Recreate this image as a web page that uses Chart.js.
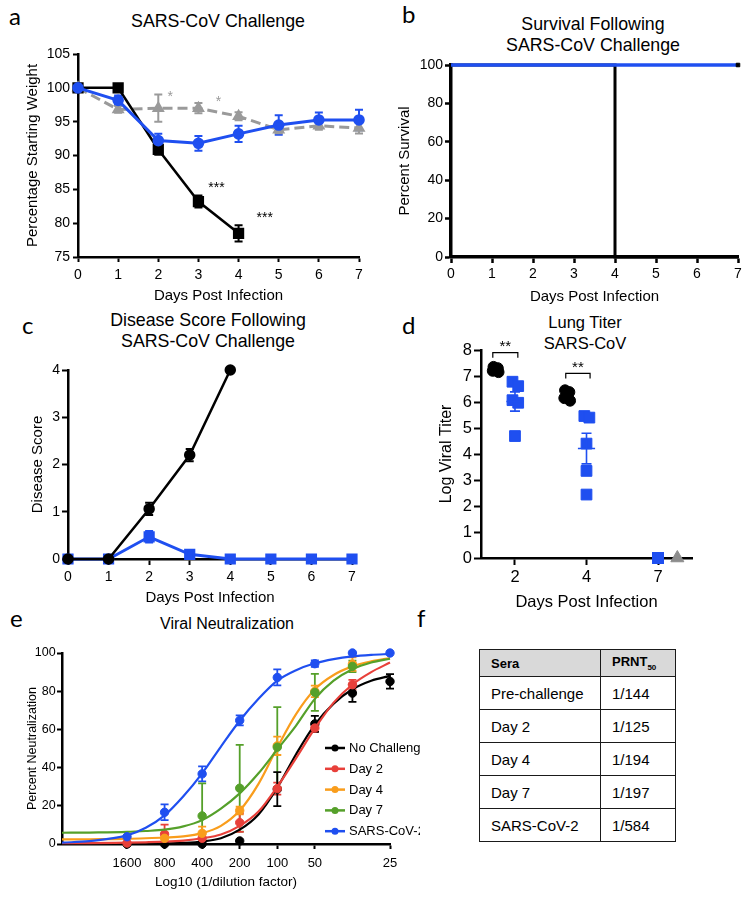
<!DOCTYPE html>
<html>
<head>
<meta charset="utf-8">
<script src="https://cdn.jsdelivr.net/npm/chart.js@4.4.1/dist/chart.umd.min.js"></script>
<style>
  body { margin: 0; background: #fff; }
  #fig { position: relative; width: 751px; height: 899px; overflow: hidden; font-family: "Liberation Sans", Arial, sans-serif; color: #000; }
  .box { position: absolute; }
  .letter { position: absolute; font-family: Lato, "Open Sans", sans-serif; font-size: 24px; line-height: 1; }
  .ttl { position: absolute; transform: translate(-50%, -50%); white-space: nowrap; font-size: 17.8px; line-height: 1; }
  #tbl { position: absolute; left: 479px; top: 649px; border-collapse: collapse; font-family: "Liberation Sans", Arial, sans-serif; }
  #tbl td, #tbl th { border: 1.5px solid #1a1a1a; padding: 0 0 0 11px; text-align: left; }
  #tbl th { background: #d9d9d9; height: 26px; font-size: 13px; font-weight: bold; }
  #tbl td { height: 32px; font-size: 15px; }
  #tbl sub { font-size: 8px; }
</style>
</head>
<body>
<div id="fig">
  <div class="letter" style="left:9px;top:4px">a</div>
  <div class="letter" style="left:402px;top:2px">b</div>
  <div class="letter" style="left:22px;top:313px">c</div>
  <div class="letter" style="left:402px;top:313px">d</div>
  <div class="letter" style="left:10px;top:606px">e</div>
  <div class="letter" style="left:417px;top:606px">f</div>

  <div class="ttl" style="left:218px;top:22px">SARS-CoV Challenge</div>
  <div class="ttl" style="left:593px;top:25px">Survival Following</div>
  <div class="ttl" style="left:593px;top:45.5px">SARS-CoV Challenge</div>
  <div class="ttl" style="left:208px;top:321px">Disease Score Following</div>
  <div class="ttl" style="left:208px;top:342px">SARS-CoV Challenge</div>
  <div class="ttl" style="left:585px;top:322px;font-size:16.5px">Lung Titer</div>
  <div class="ttl" style="left:585px;top:343px;font-size:16.5px">SARS-CoV</div>
  <div class="ttl" style="left:227px;top:624px;font-size:16px">Viral Neutralization</div>

  <div class="box" style="left:0;top:0;width:380px;height:306px"><canvas id="chartA"></canvas></div>
  <div class="box" style="left:380px;top:0;width:371px;height:306px"><canvas id="chartB"></canvas></div>
  <div class="box" style="left:0;top:306px;width:375px;height:308px"><canvas id="chartC"></canvas></div>
  <div class="box" style="left:380px;top:306px;width:371px;height:308px"><canvas id="chartD"></canvas></div>
  <div class="box" style="left:0;top:606px;width:420px;height:293px"><canvas id="chartE"></canvas></div>

  <table id="tbl">
    <tr><th style="width:109px">Sera</th><th style="width:63px">PRNT<sub>50</sub></th></tr>
    <tr><td>Pre-challenge</td><td>1/144</td></tr>
    <tr><td>Day 2</td><td>1/125</td></tr>
    <tr><td>Day 4</td><td>1/194</td></tr>
    <tr><td>Day 7</td><td>1/197</td></tr>
    <tr><td>SARS-CoV-2</td><td>1/584</td></tr>
  </table>
</div>

<script>
// ---- data ----
const days = [0, 1, 2, 3, 4, 5, 6, 7];

// a: weight
const weightBlack = [100, 100, 90.9, 83.2, 78.5];
const weightBlackErr = [0, 0, 0.8, 0.9, 1.2];
const weightBlue = [100, 98.15, 92.2, 91.8, 93.2, 94.5, 95.25, 95.25];
const weightBlueErr = [0, 0.7, 1.0, 1.1, 1.2, 1.45, 1.1, 1.5];
const weightGray = [100, 96.8, 97.0, 97.0, 95.8, 93.8, 94.4, 94.05];
const weightGrayErr = [0, 0.5, 2.0, 0.75, 0.6, 0.5, 0.6, 0.8];

// b: survival
const survBlackDays = [0, 4, 4, 7];
const survBlack = [100, 100, 0, 0];
const survBlueDays = [0, 7];
const survBlue = [100, 100];

// c: disease score
const scoreBlack = [0, 0, 1.06, 2.2, 4.0];
const scoreBlackErr = [0, 0, 0.13, 0.13, 0];
const scoreBlue = [0, 0, 0.47, 0.1, 0, 0, 0, 0];
const scoreBlueErr = [0, 0, 0.12, 0.075, 0, 0, 0, 0];

// d: lung titer
const titerDays = ['2', '4', '7'];
const titerBlack = [[7.35, 7.3, 7.25, 7.2, 7.15], [6.45, 6.38, 6.3, 6.15, 6.05], []];
const titerBlue = [[6.78, 6.61, 6.07, 5.97, 4.69], [5.46, 5.40, 4.40, 3.35, 2.44], [0, 0, 0, 0, 0]];
const titerGray = [[], [], [0]];
const titerBlueMean = [6.02, 4.21, 0];
const titerBlueSem = [0.37, 0.59, 0];

// e: neutralization
const dilutionLabels = ['1600', '800', '400', '200', '100', '50', '25'];
const dilutionTickPos = [0, 1, 2, 3, 4, 5, 7];
const neutX = [0, 1, 2, 3, 4, 5, 6, 7];
const neutNoChallenge = [0, 0, 0, 1.6, 28.7, 62.9, 79, 85.1];
const neutNoChallengeErr = [0, 0, 0, 0, 8.9, 4.2, 4.6, 3.8];
const neutDay2 = [0.5, 5.1, 3, 11.2, 29, 60.7, 83.4];
const neutDay2Err = [0, 5, 2, 4.9, 3.1, 2, 2.5];
const neutDay4 = [null, 3, 5.6, 17.5, 51.4, 79.9, 94.2];
const neutDay4Err = [0, 3, 3.5, 2, 4.8, 3, 3.5];
const neutDay7 = [null, null, 14.7, 29.2, 50.7, 79.4, 93];
const neutDay7Err = [0, 0, 17, 22.7, 21, 9.7, 3];
const neutCov2 = [3.8, 16.6, 36.7, 64.7, 87.2, 94.4, 100, 100];
const neutCov2Err = [0, 4.1, 3.9, 2.6, 4.2, 1.7, 0, 0];

// fitted curves
const fitX = [-1.73, -1, 0, 0.5, 1, 1.5, 2, 2.5, 3, 3.5, 4, 4.5, 5, 5.5, 6, 6.5, 7];
const fitNoChallenge = [0, 0, 0.05, 0.1, 0.3, 0.6, 1.3, 3, 7.5, 15.5, 29.5, 47, 62.5, 73.5, 81, 85.5, 88];
const fitDay2 = [0.5, 0.5, 0.7, 0.9, 1.2, 1.8, 3, 5, 9.5, 17, 30, 45, 60.5, 74, 83.5, 90, 95];
const fitDay4 = [2.4, 2.5, 2.7, 3, 3.4, 4, 5.7, 9.5, 17.5, 31.5, 50.5, 68, 81, 88.5, 93, 95.6, 97.3];
const fitDay7 = [5.9, 6, 6.3, 6.8, 7.5, 9.2, 12.5, 18.5, 26.5, 37, 49.5, 62, 76, 85.5, 91.5, 95, 97];
const fitCov2 = [0.7, 1.5, 4.5, 8.5, 15, 25, 37, 51, 64.5, 76, 85.5, 91, 94.6, 96.8, 98.2, 99, 99.5];

// ---- colours ----
const BLUE = '#1f4ff0';
const GRAY = '#9a9a9a';
const RED = '#e8403a';
const ORANGE = '#f99d1c';
const GREEN = '#55a02a';

Chart.defaults.font.family = '"Liberation Sans", Arial, sans-serif';
Chart.defaults.color = '#000';
Chart.defaults.animation = false;
Chart.defaults.plugins.legend.display = false;
Chart.defaults.plugins.tooltip.enabled = false;

const xy = (xs, ys) => ys.map((v, i) => ({ x: xs[i], y: v })).filter(p => p.y !== null);

// vertical error bars from dataset.err
const errorBars = {
  id: 'errorBars',
  beforeDatasetsDraw(chart) {
    const { ctx, chartArea, scales: { x, y } } = chart;
    ctx.save();
    ctx.beginPath();
    ctx.rect(chartArea.left - 10, chartArea.top - 10, chartArea.width + 20, chartArea.height + 10);
    ctx.clip();
    chart.data.datasets.forEach((ds) => {
      if (!ds.err) return;
      ctx.strokeStyle = ds.borderColor;
      ctx.lineWidth = ds.errWidth || 2;
      const cap = ds.capSize || 4;
      ds.data.forEach((p, j) => {
        const e = ds.err[j];
        if (!e) return;
        const px = x.getPixelForValue(p.x);
        const top = y.getPixelForValue(p.y + e);
        const bot = y.getPixelForValue(p.y - e);
        ctx.beginPath();
        ctx.moveTo(px, top); ctx.lineTo(px, bot);
        ctx.moveTo(px - cap, top); ctx.lineTo(px + cap, top);
        ctx.moveTo(px - cap, bot); ctx.lineTo(px + cap, bot);
        ctx.stroke();
      });
    });
    ctx.restore();
  }
};

// text labels (asterisks) placed in data space
const notes = {
  id: 'notes',
  afterDatasetsDraw(chart, args, opts) {
    const { ctx, scales: { x, y } } = chart;
    (opts.items || []).forEach((n) => {
      ctx.save();
      ctx.fillStyle = n.color || '#000';
      ctx.font = (n.size || 14) + 'px "Liberation Sans", Arial, sans-serif';
      ctx.textAlign = 'center';
      ctx.textBaseline = 'middle';
      ctx.fillText(n.text, x.getPixelForValue(n.x), y.getPixelForValue(n.y));
      ctx.restore();
    });
    (opts.brackets || []).forEach((b) => {
      const x1 = x.getPixelForValue(b.from), x2 = x.getPixelForValue(b.to);
      const yt = y.getPixelForValue(b.y), yb = y.getPixelForValue(b.y - b.leg);
      ctx.save();
      ctx.strokeStyle = '#000';
      ctx.lineWidth = 1.2;
      ctx.beginPath();
      ctx.moveTo(x1, yb); ctx.lineTo(x1, yt); ctx.lineTo(x2, yt); ctx.lineTo(x2, yb);
      ctx.stroke();
      ctx.fillStyle = '#000';
      ctx.font = '15px "Liberation Sans", Arial, sans-serif';
      ctx.textAlign = 'center';
      ctx.textBaseline = 'middle';
      ctx.fillText(b.text, (x1 + x2) / 2, yt - 6);
      ctx.restore();
    });
  }
};

// mean +/- SEM marks for panel d
const meanSem = {
  id: 'meanSem',
  afterDatasetsDraw(chart, args, opts) {
    if (!opts.mean) return;
    const { ctx, scales: { x, y } } = chart;
    ctx.save();
    ctx.strokeStyle = opts.color;
    ctx.lineWidth = 1.6;
    opts.mean.forEach((m, g) => {
      const s = opts.sem[g];
      if (!s) return;
      const cx = x.getPixelForValue(g);
      const ym = y.getPixelForValue(m);
      ctx.beginPath();
      ctx.moveTo(x.getPixelForValue(g - 0.12), ym); ctx.lineTo(x.getPixelForValue(g + 0.12), ym);
      ctx.moveTo(cx, y.getPixelForValue(m + s)); ctx.lineTo(cx, y.getPixelForValue(m - s));
      ctx.moveTo(cx - 5, y.getPixelForValue(m + s)); ctx.lineTo(cx + 5, y.getPixelForValue(m + s));
      ctx.moveTo(cx - 5, y.getPixelForValue(m - s)); ctx.lineTo(cx + 5, y.getPixelForValue(m - s));
      ctx.stroke();
    });
    ctx.restore();
  }
};

// legend drawn inside the plot of panel e
const lineLegend = {
  id: 'lineLegend',
  afterDraw(chart, args, opts) {
    if (!opts.items) return;
    const ctx = chart.ctx;
    ctx.save();
    ctx.font = '13px "Liberation Sans", Arial, sans-serif';
    ctx.textBaseline = 'middle';
    opts.items.forEach((it, i) => {
      const yy = opts.y + i * opts.gap;
      ctx.strokeStyle = it.color;
      ctx.fillStyle = it.color;
      ctx.lineWidth = 2.5;
      ctx.beginPath();
      ctx.moveTo(opts.x, yy); ctx.lineTo(opts.x + 20, yy);
      ctx.stroke();
      ctx.beginPath();
      ctx.arc(opts.x + 10, yy, 3.5, 0, Math.PI * 2);
      ctx.fill();
      ctx.fillStyle = '#000';
      ctx.fillText(it.label, opts.x + 24, yy + 0.5);
    });
    ctx.restore();
  }
};

function axis(o) {
  const s = {
    type: 'linear',
    position: o.pos,
    min: o.min,
    max: o.max,
    border: { color: '#000', width: o.bw || 2.5 },
    grid: { drawOnChartArea: false, drawTicks: true, tickLength: o.tl || 5, tickColor: '#000', tickWidth: o.tw || 2 },
    ticks: { stepSize: o.step, font: { size: o.fs || 14 }, padding: o.pad, color: '#000', maxRotation: 0, autoSkip: false },
    title: { display: true, text: o.title, color: '#000', font: { size: o.tfs || 15 },
             padding: o.pos === 'left' ? { top: o.tpad, bottom: 0 } : { top: 0, bottom: o.tpad } },
    afterFit: o.pos === 'left' ? (sc) => { sc.width = o.size; } : (sc) => { sc.height = o.size; }
  };
  if (o.ticksAt) {
    s.afterBuildTicks = (sc) => { sc.ticks = o.ticksAt.map((v) => ({ value: v })); };
    s.ticks.callback = (v, i) => o.labels[i];
  }
  return s;
}

function baseOptions(pad, scales, plugins) {
  return {
    responsive: true,
    maintainAspectRatio: false,
    devicePixelRatio: 1,
    animation: false,
    layout: { padding: pad },
    scales: scales,
    plugins: Object.assign({ legend: { display: false }, tooltip: { enabled: false } }, plugins || {})
  };
}

// ---- a ----
new Chart(document.getElementById('chartA'), {
  type: 'line',
  data: {
    datasets: [
      { data: xy(days, weightBlue), err: weightBlueErr, borderColor: BLUE, backgroundColor: BLUE, borderWidth: 3,
        pointRadius: 4.3, pointStyle: 'circle', clip: false, capSize: 4 },
      { data: xy(days, weightBlack), err: weightBlackErr, borderColor: '#000', backgroundColor: '#000', borderWidth: 2.5,
        pointRadius: 6.2, pointStyle: 'rect', clip: false, capSize: 4 },
      { data: xy(days, weightGray), err: weightGrayErr, borderColor: GRAY, backgroundColor: GRAY, borderWidth: 3,
        borderDash: [10, 5], pointRadius: 4.5, pointStyle: 'triangle', clip: false, capSize: 4 }
    ]
  },
  options: baseOptions({ top: 54, right: 21, left: 0, bottom: 0 }, {
    x: axis({ pos: 'bottom', min: 0, max: 7, step: 1, pad: 4.6, title: 'Days Post Infection', tpad: 1, size: 49 }),
    y: axis({ pos: 'left', min: 75, max: 105, step: 5, pad: 3, title: 'Percentage Starting Weight', tpad: 24, size: 78 })
  }, {
    notes: { items: [
      { x: 2.3, y: 98.6, text: '*', color: GRAY, size: 14 },
      { x: 3.5, y: 97.9, text: '*', color: GRAY, size: 14 },
      { x: 3.45, y: 85.2, text: '***', color: '#000', size: 14 },
      { x: 4.65, y: 80.8, text: '***', color: '#000', size: 14 }
    ] }
  }),
  plugins: [errorBars, notes]
});

// ---- b ----
new Chart(document.getElementById('chartB'), {
  type: 'line',
  data: {
    datasets: [
      { data: xy([7], [100]), borderColor: '#000', backgroundColor: '#000', pointRadius: 2.5, pointStyle: 'rect', showLine: false, clip: false },
      { data: xy(survBlueDays, survBlue), borderColor: BLUE, borderWidth: 3.5, pointRadius: 0, clip: false },
      { data: xy(survBlackDays, survBlack), borderColor: '#000', borderWidth: 3, pointRadius: 0, clip: false }
    ]
  },
  options: baseOptions({ top: 65, right: 13, left: 0, bottom: 0 }, {
    x: axis({ pos: 'bottom', min: 0, max: 7, step: 1, pad: 3, title: 'Days Post Infection', tpad: 0, size: 49, bw: 3.5, tl: 6, tw: 2.5 }),
    y: axis({ pos: 'left', min: 0, max: 100, step: 20, pad: 2, title: 'Percent Survival', tpad: 16, size: 71, bw: 3.5, tl: 6, tw: 2.5 })
  })
});

// ---- c ----
new Chart(document.getElementById('chartC'), {
  type: 'line',
  data: {
    datasets: [
      { data: xy(days, scoreBlack), err: scoreBlackErr, borderColor: '#000', backgroundColor: '#000', borderWidth: 2.5,
        pointRadius: 4.5, pointStyle: 'circle', clip: false, capSize: 4 },
      { data: xy(days, scoreBlue), err: scoreBlueErr, borderColor: BLUE, backgroundColor: BLUE, borderWidth: 3,
        pointRadius: 5.8, pointStyle: 'rect', clip: false, capSize: 4 }
    ]
  },
  options: baseOptions({ top: 64, right: 23, left: 0, bottom: 0 }, {
    x: axis({ pos: 'bottom', min: 0, max: 7, step: 1, pad: 3.6, title: 'Days Post Infection', tpad: 7, size: 55, tl: 6 }),
    y: axis({ pos: 'left', min: 0, max: 4, step: 1, pad: 2, title: 'Disease Score', tpad: 29, size: 68, tl: 6 })
  }),
  plugins: [errorBars]
});

// ---- d ----
const blackJitter = [-0.03, 0.03, 0, -0.04, 0.04];
const blueJitter = [[-0.035, 0.045, -0.035, 0.045, 0], [-0.03, 0.04, 0, 0, 0], [0, 0, 0, 0, 0]];
const groupPoints = (vals, offset, jit) => vals.flatMap((g, gi) =>
  g.map((v, k) => ({ x: gi + offset + (Array.isArray(jit[0]) ? jit[gi][k] : (jit[k] || 0)), y: v })));

new Chart(document.getElementById('chartD'), {
  type: 'scatter',
  data: {
    datasets: [
      { data: groupPoints(titerBlack, -0.27, blackJitter), backgroundColor: '#000', borderColor: '#000', pointRadius: 5.5, clip: false },
      { data: groupPoints(titerBlue, 0, blueJitter), backgroundColor: BLUE, borderColor: BLUE, pointRadius: 7.6, pointStyle: 'rect', clip: false },
      { data: groupPoints(titerGray, 0.27, [0]), backgroundColor: '#8c8c8c', borderColor: '#8c8c8c', pointRadius: 7.5, pointStyle: 'triangle', clip: false }
    ]
  },
  options: baseOptions({ top: 44, right: 59, left: 0, bottom: 0 }, {
    x: axis({ pos: 'bottom', min: -0.475, max: 2.475, pad: 3, title: 'Days Post Infection', tpad: 2, size: 56, tl: 7,
              fs: 16.5, tfs: 16.5, ticksAt: [0, 1, 2], labels: titerDays }),
    y: axis({ pos: 'left', min: 0, max: 8, step: 1, pad: 2, title: 'Log Viral Titer', tpad: 57, size: 101, tl: 7, fs: 16.5, tfs: 16 })
  }, {
    meanSem: { mean: titerBlueMean, sem: titerBlueSem, color: BLUE },
    notes: { brackets: [
      { from: -0.31, to: 0.04, y: 7.9, leg: 0.2, text: '**' },
      { from: 0.71, to: 1.05, y: 7.1, leg: 0.2, text: '**' }
    ] }
  }),
  plugins: [meanSem, notes]
});

// ---- e ----
const neutSeries = [
  { label: 'No Challenge', color: '#000', pts: neutNoChallenge, err: neutNoChallengeErr, fit: fitNoChallenge },
  { label: 'Day 2', color: RED, pts: neutDay2, err: neutDay2Err, fit: fitDay2 },
  { label: 'Day 4', color: ORANGE, pts: neutDay4, err: neutDay4Err, fit: fitDay4 },
  { label: 'Day 7', color: GREEN, pts: neutDay7, err: neutDay7Err, fit: fitDay7 },
  { label: 'SARS-CoV-2', color: BLUE, pts: neutCov2, err: neutCov2Err, fit: fitCov2 }
];
const drawOrder = [4, 3, 2, 1, 0];
const eDatasets = [];
drawOrder.forEach((i) => {
  const s = neutSeries[i];
  const pts = s.pts.map((v, k) => ({ x: neutX[k], y: v, e: s.err[k] })).filter((p) => p.y !== null);
  eDatasets.push({ data: pts.map((p) => ({ x: p.x, y: p.y })), err: pts.map((p) => p.e), borderColor: s.color, backgroundColor: s.color,
                   showLine: false, pointRadius: 4.2, clip: false, capSize: 4, errWidth: 1.8 });
  eDatasets.push({ data: xy(fitX, s.fit), borderColor: s.color, borderWidth: 2.2, pointRadius: 0,
                   cubicInterpolationMode: 'monotone', clip: false });
});

new Chart(document.getElementById('chartE'), {
  type: 'line',
  data: { datasets: eDatasets },
  options: baseOptions({ top: 47, right: 30, left: 0, bottom: 0 }, {
    x: axis({ pos: 'bottom', min: -1.73, max: 7, pad: 7, title: 'Log10 (1/dilution factor)', tpad: 9, size: 55, tl: 5,
              fs: 13, tfs: 13.5, ticksAt: dilutionTickPos, labels: dilutionLabels }),
    y: axis({ pos: 'left', min: 0, max: 100, step: 20, pad: 1.3, title: 'Percent Neutralization', tpad: 25.5, size: 62, tl: 5,
              fs: 12.5, tfs: 12.5 })
  }, {
    lineLegend: { x: 325, y: 142, gap: 20.8, items: neutSeries.map((s) => ({ label: s.label, color: s.color })) }
  }),
  plugins: [errorBars, lineLegend]
});
</script>
</body>
</html>
